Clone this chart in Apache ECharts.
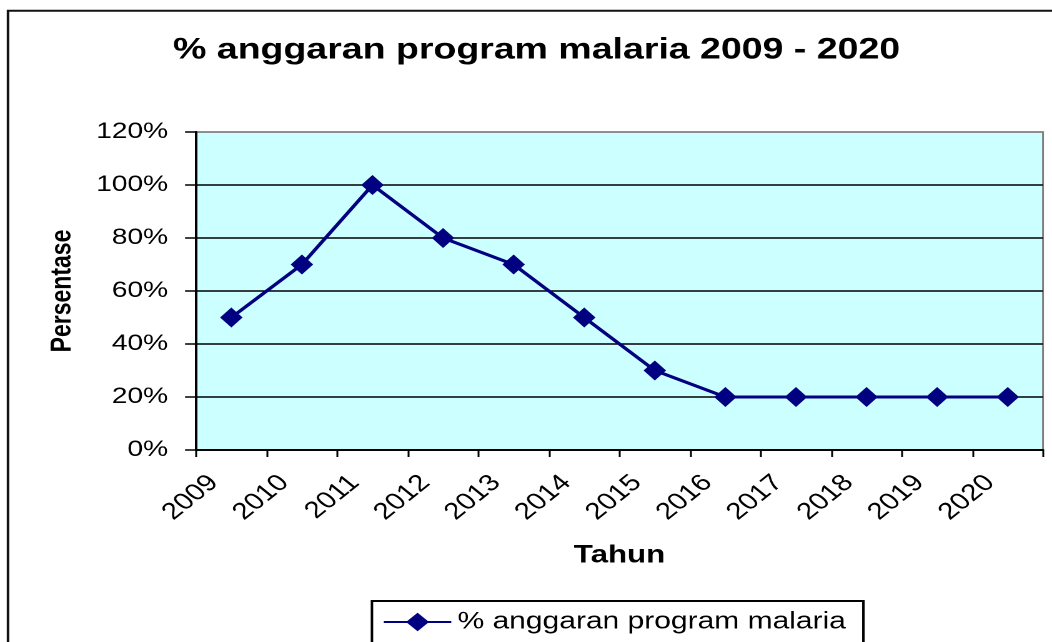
<!DOCTYPE html>
<html>
<head>
<meta charset="utf-8">
<script src="https://cdn.jsdelivr.net/npm/echarts@6/dist/echarts.min.js"></script>
<style>
  html, body { margin: 0; padding: 0; background: #ffffff; overflow: hidden; }
  #wrap { width: 1052px; height: 642px; overflow: hidden; position: relative; background: #fff; }
  #chart { width: 842px; height: 642px; transform: scaleX(1.2494); transform-origin: 0 0; }
</style>
</head>
<body>
<div id="wrap"><div id="chart"></div></div>
<script>
// ---- data ----
const titleText = '% anggaran program malaria 2009 - 2020';
const seriesName = '% anggaran program malaria';
const years = ['2009', '2010', '2011', '2012', '2013', '2014', '2015', '2016', '2017', '2018', '2019', '2020'];
const values = [50, 70, 100, 80, 70, 50, 30, 20, 20, 20, 20, 20];
const yTicks = [0, 20, 40, 60, 80, 100, 120];
const yName = 'Persentase';
const xName = 'Tahun';

const FONT = 'Liberation Sans, Arial, sans-serif';
const chart = echarts.init(document.getElementById('chart'), null, { renderer: 'canvas', devicePixelRatio: 2 });

chart.setOption({
  animation: false,
  backgroundColor: '#ffffff',
  title: {
    text: titleText,
    left: 138.5,
    top: 35,
    padding: 0,
    textStyle: { fontFamily: FONT, fontWeight: 'bold', fontSize: 30, color: '#000', lineHeight: 30 }
  },
  graphic: [{
    type: 'rect',
    z: -1,
    shape: { x: 6.4, y: 10.7, width: 900, height: 700 },
    style: { fill: 'none', stroke: '#111', lineWidth: 2 }
  }],
  legend: {
    data: [seriesName],
    left: 297.7,
    top: 601,
    padding: [9, 14, 30, 8.5],
    itemWidth: 54,
    itemHeight: 23,
    borderColor: '#000',
    borderWidth: 2,
    backgroundColor: '#fff',
    textStyle: { fontFamily: FONT, fontSize: 24, color: '#000' }
  },
  grid: {
    left: 156.9,
    right: 7.2,
    top: 132,
    bottom: 192,
    show: true,
    backgroundColor: '#CCFFFF',
    borderColor: '#808080',
    borderWidth: 1.5
  },
  xAxis: {
    type: 'category',
    data: years,
    boundaryGap: true,
    name: xName,
    nameLocation: 'middle',
    nameGap: 93,
    nameTextStyle: { fontFamily: FONT, fontWeight: 'bold', fontSize: 25, color: '#000' },
    axisLine: { lineStyle: { color: '#000', width: 2 } },
    axisTick: { show: true, length: 7, lineStyle: { color: '#000', width: 1.5 } },
    axisLabel: {
      rotate: 45,
      margin: 15,
      padding: [0, 20, 0, 0],
      fontFamily: FONT,
      fontSize: 23.5,
      color: '#000',
      interval: 0
    },
    splitLine: { show: false }
  },
  yAxis: {
    type: 'value',
    min: yTicks[0],
    max: yTicks[yTicks.length - 1],
    interval: yTicks[1] - yTicks[0],
    name: yName,
    nameLocation: 'middle',
    nameGap: 95,
    nameTextStyle: { fontFamily: FONT, fontWeight: 'bold', fontSize: 23, color: '#000' },
    axisLine: { show: true, lineStyle: { color: '#000', width: 2 } },
    axisTick: { show: true, length: 8.8, lineStyle: { color: '#000', width: 1.5 } },
    axisLabel: {
      margin: 22.4,
      fontFamily: FONT,
      fontSize: 22.5,
      color: '#000',
      formatter: '{value}%'
    },
    splitLine: {
      show: true,
      lineStyle: { color: ['#000', '#000', '#000', '#000', '#000', '#000', '#808080'], width: 1.5 }
    }
  },
  series: [{
    name: seriesName,
    type: 'line',
    data: values,
    symbol: 'diamond',
    symbolSize: [18, 20],
    color: '#000080',
    lineStyle: { color: '#000080', width: 3 },
    itemStyle: { color: '#000080' }
  }]
});
</script>
</body>
</html>
